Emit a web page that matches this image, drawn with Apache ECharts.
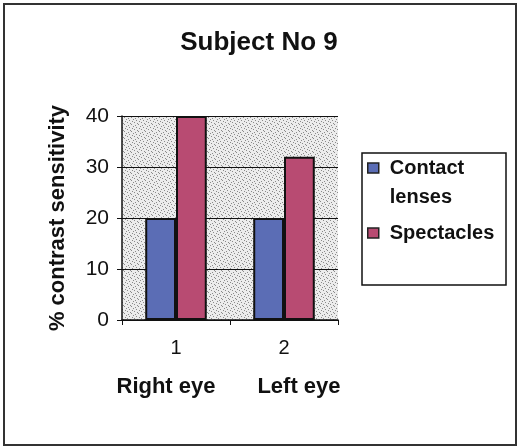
<!DOCTYPE html>
<html>
<head>
<meta charset="utf-8">
<script src="https://cdn.jsdelivr.net/npm/echarts@6/dist/echarts.min.js"></script>
<style>
  html, body { margin: 0; padding: 0; background: #fff; }
  #chart { width: 518px; height: 447px; }
</style>
</head>
<body>
<div id="chart"></div>
<script>
// data
const categories = ['1', '2']
const eyeLabels = ['Right eye', 'Left eye']
const seriesNames = ['Contact lenses', 'Spectacles']
const contactLenses = [20, 20]
const spectacles = [40, 32]
const legendLines = { 'Contact lenses': ['Contact', 'lenses'], 'Spectacles': ['Spectacles'] }

const font = '"Liberation Sans", Arial, sans-serif'

// stippled grey fill for the plot area
function stipple() {
  const c = document.createElement('canvas')
  c.width = 7; c.height = 7
  const ctx = c.getContext('2d')
  ctx.fillStyle = '#ececec'
  ctx.fillRect(0, 0, 7, 7)
  ctx.fillStyle = '#8a8a8a'
  const dots = [[0,0],[3,1],[6,2],[1,3],[4,4],[2,6],[5,5]]
  dots.forEach(d => ctx.fillRect(d[0], d[1], 1, 1))
  return { image: c, repeat: 'repeat' }
}

const chart = echarts.init(document.getElementById('chart'), null, { renderer: 'canvas' })

const option = {
  animation: false,
  backgroundColor: '#fff',
  title: {
    text: 'Subject No 9',
    left: 'center',
    top: 25,
    textStyle: { fontFamily: font, fontSize: 26, fontWeight: 'bold', color: '#111' }
  },
  grid: {
    left: 122, top: 116, width: 216, height: 204,
    show: true,
    backgroundColor: stipple(),
    borderWidth: 0
  },
  legend: {
    orient: 'vertical',
    left: 367,
    top: 129,
    padding: 0,
    itemWidth: 11,
    itemHeight: 10,
    itemGap: 16,
    icon: 'rect',
    itemStyle: { borderColor: '#222', borderWidth: 1.5 },
    data: seriesNames,
    formatter: name => {
      const lines = legendLines[name]
      if (lines.length > 1) return '{p| }\n' + lines.map(l => '{t|' + l + '}').join('\n')
      return '{t|' + lines[0] + '}'
    },
    textStyle: {
      rich: {
        p: { lineHeight: 29, fontSize: 20, fontFamily: font },
        t: { lineHeight: 29, fontSize: 20, fontWeight: 'bold', fontFamily: font, color: '#111', padding: [0, 0, 0, 6] }
      }
    }
  },
  xAxis: {
    type: 'category',
    data: categories,
    axisLine: { lineStyle: { color: '#111', width: 1.5 } },
    axisTick: { show: true, length: 5, lineStyle: { color: '#111' } },
    axisLabel: {
      interval: 0,
      hideOverlap: false,
      margin: 8,
      formatter: (v, i) => '{n|' + v + '}\n{e' + i + '|' + eyeLabels[i] + '}',
      rich: {
        n: { fontFamily: font, fontSize: 20, color: '#111', lineHeight: 40 },
        e0: { fontFamily: font, fontSize: 22, fontWeight: 'bold', color: '#111', lineHeight: 38, padding: [0, 20, 0, 0] },
        e1: { fontFamily: font, fontSize: 22, fontWeight: 'bold', color: '#111', lineHeight: 38, padding: [0, 0, 0, 30] }
      }
    },
    splitLine: { show: false }
  },
  yAxis: {
    type: 'value',
    min: 0,
    max: 40,
    interval: 10,
    name: '% contrast sensitivity',
    nameLocation: 'middle',
    nameGap: 53,
    nameTextStyle: { fontFamily: font, fontSize: 22, fontWeight: 'bold', color: '#111' },
    axisLine: { show: true, lineStyle: { color: '#111', width: 1.5 } },
    axisTick: { show: true, length: 5, lineStyle: { color: '#111' } },
    axisLabel: { margin: 13, fontFamily: font, fontSize: 21, color: '#111' },
    splitLine: { show: true, lineStyle: { color: '#111', width: 1 } }
  },
  series: [
    {
      name: seriesNames[0],
      type: 'bar',
      data: contactLenses,
      barGap: '0%',
      barCategoryGap: '43%',
      itemStyle: { color: '#5b6db5', borderColor: '#111', borderWidth: 2 }
    },
    {
      name: seriesNames[1],
      type: 'bar',
      data: spectacles,
      itemStyle: { color: '#b84b72', borderColor: '#111', borderWidth: 2 }
    }
  ],
  graphic: [
    {
      type: 'rect',
      shape: { x: 4, y: 4, width: 512, height: 441 },
      style: { fill: null, stroke: '#333', lineWidth: 2 },
      silent: true
    },
    {
      type: 'rect',
      shape: { x: 362, y: 153, width: 144, height: 132 },
      style: { fill: null, stroke: '#111', lineWidth: 1.5 },
      silent: true
    }
  ]
}

chart.setOption(option)
</script>
</body>
</html>
